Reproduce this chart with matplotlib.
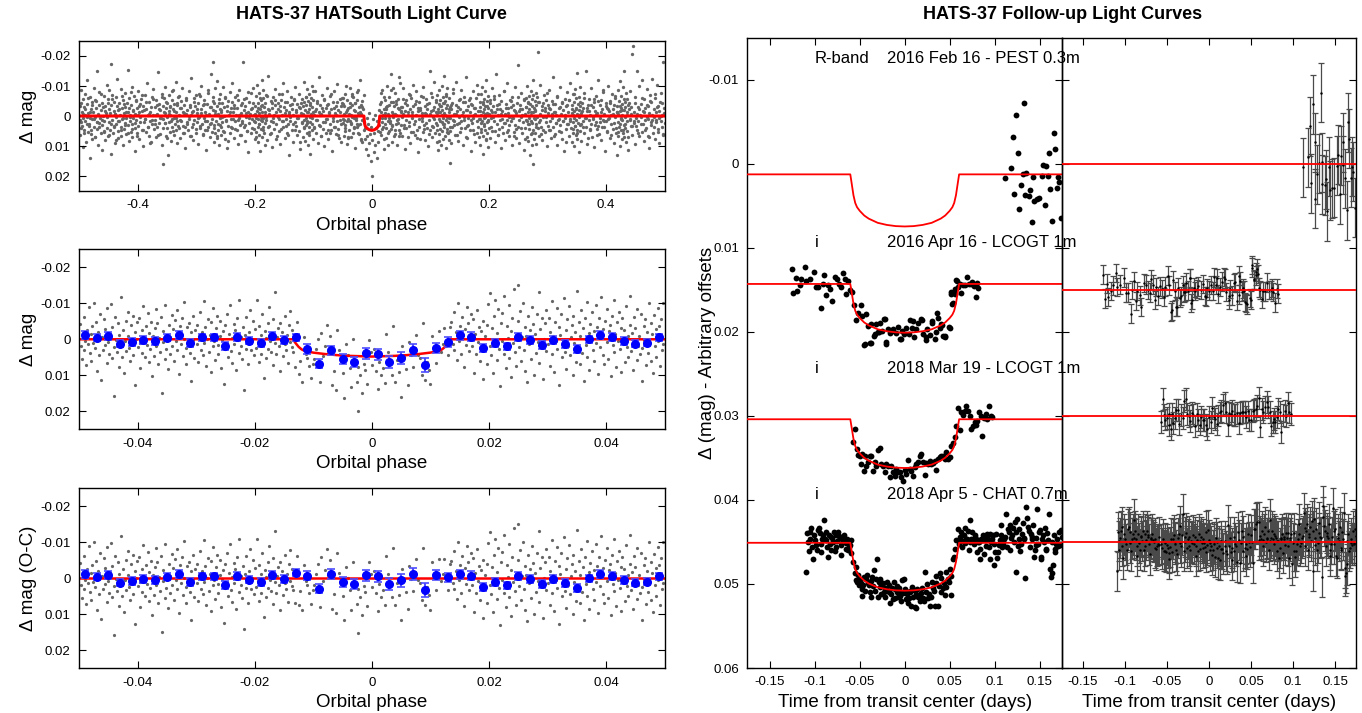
import numpy as np
import matplotlib
matplotlib.use('Agg')
import matplotlib.pyplot as plt

plt.rcParams['font.family'] = ['Liberation Sans', 'DejaVu Sans']

# HATSouth light curve, full phase range : phase x1e3, dmag x1e4
HS_WIDE = """
-499 -35, -499 62, -498 14, -497 -88, -497 20, -496 41, -495 -12, -494 103, -494 -57, -493 7, -492 -30, -491 48,
-490 -74, -490 15, -489 -3, -488 86, -487 -41, -486 28, -486 -120, -485 52, -484 -9, -483 33, -482 -65, -482 5,
-481 140, -480 -22, -479 60, -478 -47, -477 11, -477 78, -476 -15, -475 -95, -474 37, -473 2, -473 -53, -472 70,
-471 -28, -470 19, -469 -150, -469 44, -468 -6, -467 95, -466 -37, -465 24, -465 -80, -464 8, -463 55, -462 -19,
-461 112, -461 -44, -460 30, -459 -1, -458 -68, -457 49, -457 16, -456 -33, -455 81, -454 -10, -453 -105, -453 39,
-452 4, -451 -58, -450 66, -449 -24, -449 21, -448 -87, -447 46, -446 -172, -445 125, -445 -36, -444 12, -443 -70,
-442 58, -441 -16, -441 32, -440 -48, -439 91, -438 -8, -437 27, -437 -62, -436 3, -435 -125, -434 50, -433 -20,
-433 74, -432 -42, -431 16, -430 -2, -429 65, -429 -90, -428 35, -427 -27, -426 10, -425 -54, -425 98, -424 -11,
-423 43, -422 -76, -421 22, -421 -30, -420 7, -419 60, -418 -45, -417 -155, -417 31, -416 -14, -415 84, -414 -60,
-413 18, -413 -5, -412 52, -411 -38, -410 -96, -409 25, -409 71, -408 -21, -407 6, -406 -67, -405 40, -405 -8,
-404 118, -403 -49, -402 14, -401 -28, -401 57, -400 -82, -399 33, -398 -12, -397 76, -396 -40, -395 3, -394 -58,
-393 45, -392 -18, -391 100, -390 -33, -389 20, -388 -70, -387 9, -386 52, -385 -25, -384 -110, -383 38, -382 -5,
-381 66, -380 -47, -379 17, -378 -15, -377 88, -376 -62, -375 28, -374 -2, -373 -90, -372 44, -371 -30, -370 13,
-369 -52, -368 71, -367 -8, -366 36, -365 -148, -364 22, -363 -40, -362 59, -361 -20, -360 5, -359 -75, -358 96,
-357 -35, -356 11, -356 160, -355 -60, -354 24, -353 -11, -353 -98, -352 68, -351 -26, -350 2, -350 41, -349 -45,
-348 130, -347 -16, -347 19, -346 -70, -345 54, -344 -4, -344 -32, -343 82, -342 -55, -341 10, -341 35, -340 -22,
-339 -88, -338 63, -338 6, -337 -40, -336 27, -335 -115, -335 48, -334 -12, -333 90, -332 -36, -332 15, -331 -64,
-330 40, -329 -3, -328 -28, -327 72, -326 -50, -325 18, -324 -95, -323 33, -322 -14, -321 58, -320 -38, -319 105,
-318 -7, -317 -60, -316 25, -315 -20, -314 46, -313 -82, -312 9, -311 67, -310 -30, -309 -2, -308 -128, -307 37,
-306 -18, -305 80, -304 -48, -303 12, -302 -35, -301 55, -300 -70, -299 20, -298 -10, -297 93, -296 -44, -295 4,
-294 -66, -293 41, -292 -22, -291 -100, -290 28, -289 62, -288 -36, -287 7, -286 -55, -285 48, -284 -14, -283 112,
-282 -40, -281 16, -280 -78, -279 35, -278 -6, -277 70, -276 -30, -275 -140, -274 22, -273 52, -272 -20, -272 -180,
-271 -62, -270 85, -269 -45, -269 30, -268 -8, -267 -92, -267 57, -266 15, -265 -34, -265 68, -264 -118, -263 26,
-263 -2, -262 45, -261 -56, -261 96, -260 -24, -259 8, -259 -75, -258 38, -257 -12, -257 62, -256 -42, -255 20,
-254 -98, -254 50, -253 1, -252 -30, -251 77, -250 -60, -249 14, -248 -18, -247 108, -246 -50, -245 32, -244 -5,
-243 -80, -242 55, -241 -26, -240 9, -239 -110, -238 40, -237 -15, -236 72, -235 -38, -234 18, -233 -65, -232 -2,
-231 48, -230 -28, -229 92, -228 -52, -227 6, -226 -88, -225 29, -224 -10, -223 64, -222 -42, -221 15, -220 -180,
-219 37, -218 -20, -217 83, -216 -35, -215 3, -214 -60, -213 51, -212 -14, -211 120, -210 -46, -209 24, -208 -8,
-207 -76, -206 58, -205 -28, -204 11, -203 -95, -202 44, -201 -4, -200 75, -199 -33, -199 20, -198 -66, -198 5,
-197 52, -196 -18, -196 -105, -195 36, -195 88, -194 -42, -194 10, -193 -10, -193 64, -192 -78, -192 27, -191 -25,
-191 115, -190 -52, -190 3, -189 44, -189 -34, -188 -120, -188 18, -187 71, -187 -15, -186 -60, -186 38, -185 6,
-185 -88, -184 55, -184 -30, -183 -3, -183 98, -182 -45, -182 22, -181 -70, -180 12, -179 80, -178 -22, -177 -135,
-176 32, -175 -8, -174 60, -173 -50, -172 15, -171 -28, -170 102, -169 -62, -168 7, -167 42, -166 -36, -165 -90,
-164 25, -163 -12, -162 68, -161 -44, -160 4, -159 -75, -158 50, -157 -18, -156 92, -155 -55, -154 18, -153 -2,
-152 -110, -151 36, -150 -30, -149 74, -148 -46, -147 10, -146 -20, -145 57, -144 -85, -143 28, -142 -6, -141 130,
-140 -38, -139 15, -138 -64, -137 45, -136 -25, -135 -3, -134 85, -133 -52, -132 20, -131 -98, -130 33, -129 -14,
-128 62, -127 -40, -126 8, -125 -72, -124 49, -123 -26, -122 110, -121 -9, -120 -58, -119 24, -118 -32, -117 70,
-116 -48, -116 12, -115 -115, -115 40, -114 -20, -114 82, -113 -64, -113 5, -112 30, -112 -38, -111 -90, -111 55,
-110 16, -110 -12, -109 98, -109 -50, -108 -25, -108 35, -107 -75, -107 62, -106 2, -106 -42, -105 125, -105 20,
-104 -60, -104 -8, -103 48, -103 -100, -102 27, -102 -30, -101 75, -101 -15, -100 -55, -99 38, -98 -4, -97 -82,
-96 58, -95 -22, -94 14, -93 -45, -92 90, -91 -12, -90 -130, -89 33, -88 -36, -87 66, -86 -6, -85 -70, -84 44,
-83 -18, -82 100, -81 -52, -80 20, -79 -28, -78 55, -77 -92, -76 9, -75 -40, -74 78, -73 -14, -72 28, -71 -66,
-70 48, -69 -24, -68 115, -67 -48, -66 6, -65 -85, -64 36, -63 -10, -62 60, -61 -35, -60 18, -59 -108, -58 42,
-57 -20, -56 72, -55 -56, -54 12, -53 -32, -52 88, -51 -44,
-50 22, -49 -40, -48 65, -47 -8, -46 -75, -45 30, -44 -15, -43 92, -42 -52, -41 10, -40 -28, -39 48, -38 -95,
-37 18, -36 -5, -35 70, -34 -38, -33 4, -32 -62, -31 40, -30 -20, -29 105, -28 -44, -27 12, -26 -80, -25 35,
-24 -10, -23 58, -22 -30, -21 -120, -20 26, -19 -6, -18 80, -17 -50, -16 14, -15 -25, -14 45,
-50 -60, -48 12, -46 40, -44 -100, -42 18, -40 70, -38 -30, -36 25, -34 -72, -32 55, -30 8, -28 -45, -26 28,
-24 -88, -22 60, -20 -12, -18 -36, -16 88, -14 -70,
-13 20, -12 75, -11 40, -10 110, -9 5, -8 68, -7 130, -6 25, -5 90, -4 -10, -3 60, -2 150, -1 35, 0 200, 1 80,
2 10, 3 120, 4 55, 5 -5, 6 95, 7 40, 8 140, 9 15, 10 85, 11 50, 12 -20, 13 30,
14 -40, 15 62, 16 -15, 17 8, 18 -88, 19 36, 20 -25, 21 110, 22 -55, 23 6, 24 -30, 25 72, 26 -100, 27 18, 28 -8,
29 50, 30 -65, 31 22, 32 -140, 33 44, 34 -12, 35 88, 36 -46, 37 2, 38 -34, 39 60, 40 -78, 41 26, 42 -4, 43 95,
44 -58, 45 10, 46 -22, 47 48, 48 -110, 49 30, 50 -16,
14 52, 16 -78, 18 20, 20 75, 22 -10, 24 40, 26 -35, 28 95, 30 5, 32 -48, 34 30, 36 -92, 38 68, 40 -8, 42 -50,
44 22, 46 -130, 48 56, 50 -30,
51 -30, 52 65, 53 -8, 54 -92, 55 40, 56 -18, 57 110, 58 -52, 59 14, 60 -36, 61 70, 62 -4, 63 -75, 64 33, 65 -22,
66 90, 67 -60, 68 8, 69 -14, 70 52, 71 -105, 72 25, 73 -40, 74 62, 75 -2, 76 -85, 77 45, 78 -28, 79 120, 80 -48,
81 10, 82 -20, 83 76, 84 -66, 85 18, 86 -10, 87 54, 88 -98, 89 30, 90 -34, 91 80, 92 -6, 93 -58, 94 40, 95 -25,
96 100, 97 -44, 98 12, 99 -150, 100 48, 101 -18, 102 70, 103 -62, 104 4, 105 36, 106 -30, 107 -115, 108 58,
109 -12, 109 22, 110 -48, 111 85, 111 -5, 112 -70, 112 30, 113 -25, 113 112, 114 10, 114 -40, 115 60, 115 -88,
116 -15, 116 42, 117 -55, 117 18, 118 95, 118 -32, 119 -2, 119 -100, 120 50, 120 -20, 121 28, 121 -65, 122 75,
122 8, 123 -42, 123 -135, 124 38, 124 -10, 125 66, 125 -50, 126 14, 126 -28, 127 105, 127 -74, 128 2, 128 44,
129 -36, 129 -92, 130 58, 130 20, 131 -15, 131 80, 132 -60, 132 6, 133 -30, 133 36, 134 155, 134 50, 135 -22,
136 90, 137 -45, 138 12, 139 -78, 140 30, 141 -8, 142 64, 143 -38, 144 -112, 145 26, 146 -16, 147 82, 148 -54,
149 4, 150 -25, 151 52, 152 -88, 153 18, 154 -4, 155 98, 156 -46, 157 14, 158 -64, 159 40, 160 -20, 161 -130,
162 33, 163 72, 164 -35, 165 8, 166 -55, 167 46, 168 -12, 169 118, 170 -40, 171 22, 172 -82, 173 5, 174 60,
175 -28, 176 -6, 177 86, 178 -60, 179 15, 180 -105, 181 38, 182 -18, 183 70, 184 -48, 184 10, 185 -30, 185 95,
186 -72, 186 24, 187 -2, 187 54, 188 -96, 188 16, 189 -40, 189 66, 190 -14, 190 125, 191 -58, 191 8, 192 32,
192 -22, 193 -85, 193 48, 194 2, 194 -35, 195 78, 195 -120, 196 20, 196 -10, 197 58, 197 -50, 198 -26, 198 102,
199 12, 199 -66, 200 40, 200 -8, 201 -44, 202 74, 203 -20, 204 6, 205 -92, 206 50, 207 -32, 208 16, 209 -58,
210 88, 211 -12, 212 -140, 213 28, 214 -36, 215 62, 216 -4, 217 -70, 218 42, 219 -24, 220 108, 221 -50, 222 10,
223 -16, 224 56, 225 -82, 226 22, 227 -6, 228 80, 229 -40, 230 14, 231 -110, 232 46, 233 -28, 234 2, 235 68,
236 -54, 237 18, 238 -30, 239 96, 240 -64, 241 8, 242 -20, 243 52, 244 -98, 245 30, 246 -10, 247 74, 248 -44,
249 -170, 250 36, 251 -18, 252 90, 253 -36, 254 4, 255 -76, 256 58, 257 -22, 258 20, 259 -52, 260 112, 261 -8,
262 40, 263 -60, 264 14, 264 -30, 265 70, 265 -100, 266 26, 266 -14, 267 84, 267 -46, 268 6, 268 -66, 269 44,
269 -24, 270 130, 270 -40, 271 16, 271 -85, 272 60, 272 -2, 273 -34, 273 98, 274 22, 274 -56, 275 -12, 275 48,
276 -120, 276 160, 277 -26, 277 76, 278 10, 278 -50, 279 55, 279 -18, 280 -78, 280 28, 281 92, 281 -38, 282 4,
282 -62, 283 40, 284 -212, 285 66, 286 -48, 287 12, 288 -105, 289 36, 290 -20, 291 80, 292 -42, 293 2, 294 -70,
295 54, 296 -28, 297 20, 298 -55, 299 100, 300 -10, 301 -36, 302 45, 303 -88, 304 16, 305 -22, 306 72, 307 -50,
308 8, 309 -130, 310 38, 311 -14, 312 60, 313 -40, 314 24, 315 -4, 316 95, 317 -66, 318 12, 319 -28, 320 50,
321 -96, 322 30, 323 -8, 324 78, 325 -46, 326 18, 327 -20, 328 115, 329 -58, 330 6, 331 -34, 332 44, 333 -80,
334 26, 335 -12, 336 68, 337 -52, 338 10, 339 -110, 340 40, 341 -24, 342 86, 342 -38, 343 -2, 343 56, 344 -72,
344 20, 345 -16, 345 100, 346 -48, 346 8, 347 34, 347 -90, 348 62, 348 -28, 349 14, 349 -60, 350 -145, 350 45,
351 -6, 351 75, 352 -40, 352 24, 353 -20, 353 120, 354 -64, 354 4, 355 50, 355 -34, 356 -98, 356 30, 357 -10,
358 82, 359 -44, 360 16, 361 -26, 362 58, 363 -76, 364 8, 365 -150, 366 36, 367 -18, 368 92, 369 -38, 370 12,
371 -58, 372 46, 373 -4, 374 -92, 375 26, 376 70, 377 -30, 378 2, 379 -48, 380 104, 381 -16, 382 20, 383 -68,
384 42, 385 -10, 386 -120, 387 32, 388 60, 389 -36, 390 6, 391 -54, 392 80, 393 -22, 394 14, 395 -86, 396 38,
397 -6, 398 118, 399 -42, 400 18, 401 -28, 402 52, 403 -100, 404 10, 405 -16, 406 74, 407 -50, 408 28, 409 -2,
410 -74, 411 44, 412 -24, 413 90, 414 -38, 415 4, 416 -60, 417 56, 418 -12, 419 130, 419 -32, 420 20, 420 -88,
421 66, 421 -8, 422 36, 422 -50, 423 -16, 423 100, 424 -118, 424 26, 425 -26, 425 48, 426 8, 426 -66, 427 78,
427 -40, 428 14, 428 -4, 429 -96, 429 58, 430 -20, 430 30, 431 -150, 431 70, 432 -46, 432 2, 433 40, 433 -30,
434 -78, 434 88, 435 16, 435 -12, 436 -56, 436 50, 437 -36, 438 112, 439 -24, 440 10, 441 -84, 442 34, 443 -8,
444 62, 445 -205, 446 -232, 447 22, 448 -14, 449 94, 450 -64, 451 6, 452 -150, 453 46, 454 -30, 455 18,
456 -100, 457 68, 458 -2, 459 -40, 460 28, 461 -120, 462 52, 463 -18, 464 84, 465 -56, 466 12, 467 -26, 468 40,
469 -90, 470 4, 471 66, 472 -34, 473 106, 474 -10, 475 -70, 476 30, 477 -48, 478 14, 479 -125, 480 56, 481 -22,
482 2, 483 78, 484 -60, 485 20, 486 -14, 487 -102, 488 44, 489 -32, 490 8, 491 90, 492 -46, 493 16, 494 -76,
495 36, 496 -4, 497 -180, 498 60, 499 -28, 500 22
"""

# more HATSouth points from the dense core of the band : phase x1e3, dmag x1e4
HS_WIDE2 = """
-499 15, -497 -42, -495 33, -493 -8, -491 57, -489 -25, -487 4, -485 -61, -483 28, -481 -14, -479 46, -477 -36,
-475 9, -473 70, -471 -50, -469 21, -467 -3, -465 38, -463 -72, -461 12, -459 -29, -457 52, -455 -18, -453 1,
-451 -45, -449 64, -447 -10, -445 26, -443 -58, -441 35, -439 -6, -437 80, -435 -33, -433 18, -431 -22, -429 48,
-427 -66, -425 7, -423 -40, -421 30, -419 -12, -417 58, -415 -27, -413 3, -411 -80, -409 42, -407 -16, -405 24,
-403 -52, -401 66, -399 -4, -397 -35, -395 19, -393 -70, -391 45, -389 -20, -387 10, -385 -48, -383 36, -381 -8,
-379 90, -377 -31, -375 14, -373 -56, -371 27, -369 -2, -367 -38, -365 62, -363 -24, -361 8, -359 -64, -357 40,
-355 -13, -353 22, -351 -46, -349 74, -347 -6, -345 -30, -343 16, -341 -84, -339 50, -337 -18, -335 5, -333 -42,
-331 32, -329 -68, -327 12, -325 -26, -323 55, -321 -9, -319 38, -317 -55, -315 20, -313 -1, -311 -36, -309 68,
-307 -15, -305 28, -303 -60, -301 44, -299 -22, -297 6, -295 -75, -293 34, -291 -11, -289 60, -287 -40, -285 17,
-283 -5, -281 48, -279 -88, -277 25, -275 -30, -273 11, -271 -50, -269 40, -267 -16, -265 72, -263 -7, -261 -44,
-259 30, -257 -20, -255 3, -253 54, -251 -62, -249 18, -247 -34, -245 82, -243 -12, -241 36, -239 -48, -237 9,
-235 -26, -233 44, -231 -70, -229 14, -227 -3, -225 63, -223 -38, -221 22, -219 -57, -217 31, -215 -10, -213 50,
-211 -80, -209 6, -207 -22, -205 39, -203 -45, -201 15, -199 -8, -197 70, -195 -28, -193 26, -191 -60, -189 12,
-187 -36, -185 46, -183 -14, -181 4, -179 -66, -177 35, -175 -19, -173 58, -171 -42, -169 20, -167 -2, -165 -52,
-163 76, -161 -24, -159 10, -157 -32, -155 42, -153 -74, -151 17, -149 -9, -147 33, -145 -47, -143 64, -141 -15,
-139 2, -137 -40, -135 28, -133 -58, -131 48, -129 -20, -127 8, -125 -30, -123 85, -121 -44, -119 19, -117 -6,
-115 37, -113 -64, -111 24, -109 -12, -107 52, -105 -36, -103 6, -101 -82, -99 40, -97 -18, -95 14, -93 -50,
-91 30, -89 -4, -87 68, -85 -26, -83 21, -81 -56, -79 11, -77 -38, -75 45, -73 -10, -71 57, -69 -72, -67 16,
-65 -28, -63 35, -61 -2, -59 -46, -57 62, -55 -14, -53 27, -51 -60, -49 9, -47 -34, -45 50, -43 -20, -41 74,
-39 -8, -37 -42, -35 22, -33 -68, -31 38, -29 -16, -27 5, -25 -54, -23 31, -21 -11, -19 78, -17 -30, -15 13,
15 -48, 17 43, 19 -4, 21 -64, 23 25, 25 -22, 27 56, 29 -36, 31 18, 33 -86, 35 34, 37 -7, 39 47, 41 -40, 43 12,
45 -26, 47 66, 49 -15, 51 3, 53 -58, 55 29, 57 -45, 59 41, 61 -12, 63 20, 65 -70, 67 54, 69 -3, 71 -32,
73 15, 75 -50, 77 72, 79 -18, 81 37, 83 -28, 85 7, 87 -62, 89 44, 91 -10, 93 23, 95 -40, 97 60, 99 -6,
101 -76, 103 32, 105 -20, 107 10, 109 -52, 111 46, 113 -14, 115 84, 117 -34, 119 19, 121 -44, 123 28, 125 -2,
127 -66, 129 52, 131 -24, 133 6, 135 -38, 137 36, 139 -90, 141 16, 143 -8, 145 64, 147 -30, 149 24, 151 -56,
153 40, 155 -12, 157 4, 159 -48, 161 70, 163 -20, 165 30, 167 -60, 169 14, 171 -36, 173 48, 175 -4, 177 -26,
179 58, 181 -74, 183 10, 185 -16, 187 42, 189 -46, 191 26, 193 -8, 195 80, 197 -32, 199 18, 201 -54, 203 35,
205 -14, 207 2, 209 -68, 211 50, 213 -22, 215 62, 217 -40, 219 13, 221 -6, 223 38, 225 -84, 227 22, 229 -28,
231 54, 233 -10, 235 30, 237 -50, 239 8, 241 -36, 243 66, 245 -18, 247 44, 249 -64, 251 12, 253 -24, 255 40,
257 -2, 259 -58, 261 76, 263 -30, 265 16, 267 -42, 269 27, 271 -12, 273 56, 275 -70, 277 6, 279 -20, 281 36,
283 -48, 285 20, 287 -8, 289 60, 291 -34, 293 46, 295 -16, 297 3, 299 -78, 301 32, 303 -26, 305 48, 307 -6,
309 -40, 311 68, 313 -14, 315 24, 317 -62, 319 10, 321 -30, 323 52, 325 -44, 327 15, 329 -4, 331 86, 333 -36,
335 28, 337 -52, 339 18, 341 -10, 343 42, 345 -72, 347 34, 349 -22, 351 58, 353 -2, 355 -46, 357 25, 359 -16,
361 38, 363 -60, 365 8, 367 -28, 369 74, 371 -18, 373 44, 375 -38, 377 11, 379 -56, 381 30, 383 -6, 385 64,
387 -50, 389 20, 391 -12, 393 36, 395 -80, 397 16, 399 -32, 401 50, 403 -24, 405 5, 407 -42, 409 62, 411 -8,
413 22, 415 -66, 417 40, 419 -14, 421 54, 423 -34, 425 9, 427 -20, 429 46, 431 -58, 433 26, 435 -4, 437 70,
439 -44, 441 14, 443 -30, 445 33, 447 15, 449 -42, 451 33, 453 -8, 455 57, 457 -25, 459 4, 461 -61, 463 28,
465 -14, 467 46, 469 -36, 471 9, 473 70, 475 -50, 477 21, 479 -3, 481 38, 483 -72, 485 12, 487 -29, 489 52,
491 -18, 493 1, 495 -45, 497 64, 499 -10
"""

# HATSouth light curve around the transit : phase x1e4, dmag x1e4
HS_ZOOM = """
-498 -42, -497 18, -495 55, -494 -8, -492 31, -491 -63, -489 4, -488 72, -486 -25, -485 12, -483 -91, -482 38,
-480 -14, -479 61, -477 -37, -476 9, -474 -102, -473 25, -471 -48, -470 87, -468 3, -467 -19, -465 44, -464 -71,
-462 112, -461 -5, -459 29, -458 -56, -456 16, -455 -29, -453 67, -452 -88, -450 7, -449 41, -447 -15, -446 -99,
-444 53, -443 -33, -441 21, -440 158, -438 -62, -437 2, -435 36, -434 -45, -432 77, -431 -11, -429 14, -428 -118,
-426 48, -425 -27, -423 95, -422 6, -420 -52, -419 33, -417 -8, -416 -75, -414 24, -413 59, -411 -39, -410 11,
-408 -64, -407 43, -405 -21, -404 128, -402 -2, -401 -47,
-399 22, -398 -58, -396 9, -395 81, -393 -26, -392 37, -390 -93, -389 -4, -387 50, -386 -36, -384 15, -383 -72,
-381 63, -380 -17, -378 28, -377 -49, -375 101, -374 -9, -372 46, -371 -31, -369 -85, -368 19, -366 -44, -365 70,
-363 -3, -362 34, -360 -61, -359 150, -357 -22, -356 8, -354 55, -353 -95, -351 27, -350 -12, -348 83, -347 -40,
-345 -6, -344 42, -342 -68, -341 18, -339 -28, -338 61, -336 -53, -335 4, -333 -80, -332 30, -330 -14, -329 96,
-327 -37, -326 13, -324 -59, -323 47, -321 -1, -320 -104, -318 25, -317 68, -315 -33, -314 7, -312 -46, -311 38,
-309 -19, -308 115, -306 -64, -305 2, -303 52, -302 -26,
-299 -41, -298 14, -296 63, -295 -8, -293 -77, -292 29, -290 -20, -289 45, -287 -106, -286 11, -284 -35, -283 74,
-281 -2, -280 -55, -278 36, -277 -13, -275 90, -274 -47, -272 20, -271 -88, -269 5, -268 58, -266 -30, -265 -66,
-263 17, -262 41, -260 -9, -259 -52, -257 80, -256 1, -254 -24, -253 123, -251 -39, -250 26, -248 -71, -247 9,
-245 49, -244 -16, -242 -94, -241 33, -239 -4, -238 65, -236 -43, -235 12, -233 -27, -232 86, -230 -58, -229 3,
-227 39, -226 -109, -224 19, -223 -7, -221 56, -220 -34, -218 142, -217 -13, -215 27, -214 -62, -212 6, -211 70,
-209 -21, -208 -82, -206 31, -205 -1, -203 -50, -202 44,
-199 -29, -198 23, -196 -108, -195 8, -193 62, -192 -38, -190 -12, -189 40, -187 -70, -186 15, -184 107, -183 -24,
-181 -3, -180 53, -178 -46, -177 28, -175 -90, -174 5, -172 34, -171 -15, -169 71, -168 -57, -166 10, -165 -131,
-163 42, -162 -6, -160 -31, -159 19, -157 88, -156 -45, -154 2, -153 -19, -151 47,
-149 -66, -148 13, -146 29, -145 -11, -143 65, -142 -40, -140 7, -139 -78, -137 22, -136 -25,
-134 35, -131 78, -128 -48, -125 96, -122 60, -119 118, -116 -5, -113 40, -110 52, -107 75, -104 108, -101 70,
-98 55, -95 26, -92 0, -89 120, -86 -18, -83 47, -80 18, -77 -40, -74 33, -71 -8, -68 128, -65 88, -62 140,
-59 -25, -56 30, -53 60, -50 95, -47 162, -44 14, -41 44, -38 80, -35 133, -32 0, -29 65, -26 118, -24 200,
-23 76, -20 99, -17 150, -14 68, -11 86, -8 124, -5 3, -2 36, 1 72, 4 28, 7 88, 10 137, 13 64, 16 100, 19 79,
22 122, 25 -15, 28 34, 31 67, 34 98, 37 -38, 40 120, 43 58, 46 91, 49 160, 52 20, 55 49, 58 82, 61 128, 64 8,
67 44, 70 77, 73 25, 76 -12, 79 45, 82 53, 85 99, 88 -45, 91 112, 94 62, 97 84, 100 125, 103 -8, 106 32,
109 66, 112 20, 115 -22, 118 36, 121 14, 124 -30, 127 20, 130 43, 133 -35,
136 -48, 138 12, 140 -75, 141 30, 143 -20, 145 58, 147 -100, 148 5, 150 -38, 152 40, 154 -62, 155 -12, 157 78,
159 -28, 161 15, 162 -90, 164 -45, 166 33, 168 -5, 169 -70, 171 20, 173 -55, 175 95, 176 -15, 178 42, 180 -82,
182 8, 183 -35, 185 60, 187 -22, 189 110, 190 -50, 192 25, 194 -8, 196 70, 197 -40, 199 -98,
201 18, 202 -128, 204 45, 205 -30, 207 95, 208 -64, 210 3, 211 -110, 213 57, 214 -18, 216 -85, 217 27, 219 130,
220 -45, 222 6, 223 -72, 225 40, 226 -120, 228 15, 229 80, 231 -38, 232 -3, 234 -95, 235 52, 237 -22, 238 105,
240 -60, 241 11, 243 -140, 244 36, 246 -12, 247 73, 249 -50, 250 -150, 252 22, 253 -78, 255 60, 256 -5,
258 -100, 259 31, 261 88, 262 -33, 264 -8, 265 120, 267 -66, 268 14, 270 -25, 271 55, 273 -90, 274 4, 276 -42,
277 98, 279 -16, 280 38, 282 -70, 283 7, 285 -130, 286 66, 288 -28, 289 20, 291 -58, 292 110, 294 -2, 295 -45,
297 33, 298 -82,
301 12, 302 -60, 304 75, 305 -20, 307 -105, 308 40, 310 -8, 311 92, 313 -48, 314 5, 316 -88, 317 28, 319 -35,
320 128, 322 -12, 323 -70, 325 50, 326 2, 328 -115, 329 34, 331 -26, 332 82, 334 -55, 335 18, 337 -92, 338 45,
340 -5, 341 -40, 343 100, 344 -66, 346 9, 347 -20, 349 62, 350 -135, 352 24, 353 -48, 355 70, 356 -10, 358 -80,
359 38, 361 -30, 362 115, 364 -58, 365 15, 367 -104, 368 48, 370 -18, 371 85, 373 -42, 374 1, 376 -75, 377 30,
379 -22, 380 60, 382 -95, 383 10, 385 -35, 386 96, 388 -60, 389 21, 391 -12, 392 -118, 394 43, 395 -28, 397 70,
398 -50,
401 8, 402 -85, 404 55, 405 -22, 407 -40, 408 102, 410 -65, 411 16, 413 -110, 414 36, 416 -15, 417 78, 419 -48,
420 4, 422 -75, 423 28, 425 -32, 426 90, 428 -58, 429 12, 431 -25, 432 64, 434 -92, 435 22, 437 -8, 438 50,
440 -40, 441 -120, 443 33, 444 -18, 446 85, 447 -62, 449 6, 450 -30, 452 58, 453 -84, 455 18, 456 -10, 458 42,
459 -70, 461 25, 462 115, 464 -36, 465 3, 467 -55, 468 72, 470 -20, 471 38, 473 -100, 474 10, 476 -45, 477 60,
479 -14, 480 95, 482 -68, 483 20, 485 -28, 486 48, 488 -88, 489 5, 491 -38, 492 75, 494 -56, 495 30, 497 -102,
498 12
"""

# binned HATSouth points (x1e4)
BIN_PHASE = [-490, -470, -450, -430, -410, -390, -370, -350, -330, -310, -290, -270, -250, -230, -210, -190, -170,
             -150, -130, -110, -90, -70, -50, -30, -10, 10, 30, 50, 70, 90, 110, 130, 150, 170, 190, 210, 230,
             250, 270, 290, 310, 330, 350, 370, 390, 410, 430, 450, 470, 490]
BIN_DMAG = [-12, -4, -10, 12, 7, 2, 6, -4, -12, 11, -6, -6, 18, -7, 4, 10, -10, 2, -5, 27, 68, 31, 55, 63, 39,
            42, 63, 51, 30, 72, 25, 8, -11, -7, 24, 11, 20, -6, 1, 17, 2, 12, 26, 0, -11, -6, 5, 12, 10, -5]
BIN_ERR = [11, 10, 11, 10, 11, 11, 11, 10, 10, 11, 10, 10, 11, 11, 10, 11, 11, 10, 11, 13, 13, 13, 14, 14, 15,
           15, 16, 17, 17, 19, 14, 13, 12, 12, 12, 11, 11, 12, 11, 11, 11, 11, 11, 10, 11, 11, 11, 10, 10, 10]

# HATSouth transit model
PHASE_MODEL = [-0.5, -0.0135, -0.013, -0.0125, -0.012, -0.0115, -0.011, -0.010, -0.008, -0.006, -0.004, -0.002,
               0.0, 0.002, 0.004, 0.006, 0.008, 0.010, 0.011, 0.0115, 0.012, 0.0125, 0.013, 0.0135, 0.5]
DMAG_MODEL = [0, 0, 0.0011, 0.0021, 0.0028, 0.0032, 0.0034, 0.0037, 0.0041, 0.0044, 0.0046, 0.0047,
              0.0048, 0.0047, 0.0046, 0.0044, 0.0041, 0.0037, 0.0034, 0.0032, 0.0028, 0.0021, 0.0011, 0, 0]

# follow-up transit shape (fraction of depth)
T_MODEL = [-0.175, -0.0605, -0.059, -0.057, -0.055, -0.053, -0.050, -0.045, -0.040, -0.030, -0.020, -0.010,
           0.0, 0.010, 0.020, 0.030, 0.040, 0.045, 0.050, 0.053, 0.055, 0.057, 0.059, 0.0605, 0.175]
F_MODEL = [0, 0, 0.17, 0.40, 0.55, 0.63, 0.70, 0.79, 0.85, 0.93, 0.97, 0.993,
           1.0, 0.993, 0.97, 0.93, 0.85, 0.79, 0.70, 0.63, 0.55, 0.40, 0.17, 0, 0]

# follow-up light curves: time x1e4 days, mag x1e5
FEB16 = """
1120 170, 1180 50, 1200 -320, 1220 360, 1240 -580, 1256 -130, 1267 540, 1290 250, 1315 120, 1330 -720,
1340 370, 1350 110, 1380 380, 1390 310, 1410 690, 1430 160, 1440 440, 1470 420, 1490 410, 1526 150, 1540 20,
1560 490, 1575 30, 1590 140, 1600 -130, 1620 300, 1640 680, 1660 -370, 1667 -170, 1690 290, 1700 160,
1720 220, 1740 650
"""
APR16 = """
-1258 1249, -1241 1534, -1211 1356, -1196 1518, -1167 1443, -1148 1376, -1110 1230, -1093 1396, -1056 1368,
-1011 1285, -989 1463, -963 1463, -933 1712, -911 1435, -893 1325, -870 1562, -856 1443, -826 1495, -804 1633,
-778 1349, -748 1368, -730 1435, -704 1463, -685 1305, -663 1368, -648 1554, -626 1396, -604 1507, -585 1522,
-563 1684, -537 1862, -519 1771, -490 1676, -474 1811, -452 2151, -426 1791, -407 1930, -389 2127, -370 1910,
-333 2028, -315 1910, -296 2001, -270 1890, -248 1990, -226 1843, -204 2115, -181 1969, -167 2009, -130 1961,
-100 2010, -74 1940, -48 2080, -26 1990, -3 2020, 19 1950, 44 2020, 63 1860, 85 1950, 104 2056, 130 1970,
152 1900, 178 1843, 204 2020, 233 2060, 248 1970, 278 2040, 307 1870, 333 2088, 352 2001, 363 1771, 389 1950,
407 1902, 426 2048, 444 2048, 493 1942, 511 1527, 537 1661, 559 1495, 574 1384, 596 1463, 611 1435, 630 1534,
648 1447, 670 1447, 693 1344, 715 1435, 733 1435, 752 1408, 767 1455, 789 1581, 807 1415, 819 1474,
-440 2140, -380 2135, -340 2050, -285 2000, -222 1850, -210 2147, -140 1990, -37 2090, 93 1870, 196 1860,
241 2100, 300 1890, 370 1830, 419 1920, 450 2060, 500 1960, 530 1670, 515 1550, 556 1550, 581 1400
"""
MAR19 = """
-574 3313, -548 3160, -530 3393, -519 3464, -500 3472, -481 3571, -470 3452, -456 3650, -437 3479, -426 3598,
-407 3551, -389 3472, -370 3479, -352 3650, -333 3551, -315 3598, -296 3401, -278 3384, -259 3571, -241 3598,
-222 3662, -204 3571, -185 3598, -167 3729, -148 3591, -130 3662, -111 3717, -93 3630, -74 3669, -56 3662,
-37 3729, -19 3780, 0 3638, 19 3689, 37 3520, 56 3630, 74 3650, 93 3710, 111 3610, 130 3571, 148 3551,
167 3479, 185 3452, 204 3551, 222 3701, 241 3559, 259 3571, 278 3531, 296 3571, 315 3559, 333 3531, 352 3638,
370 3511, 389 3491, 407 3479, 426 3472, 444 3511, 463 3432, 481 3511, 500 3491, 519 3361, 537 3321, 556 3254,
574 3124, 593 2910, 611 3167, 630 2958, 648 2989, 667 2938, 685 2879, 704 2938, 722 2998, 741 3155, 759 3116,
778 3076, 789 3108, 807 3057, 826 2958, 844 2998, 863 3235, 881 3029, 900 2977, 919 3037, 937 2886, 956 2998,
974 3017
"""
APR5 = """
-1093 4856, -1081 4393, -1067 4607, -1056 4460, -1037 4334, -1019 4706, -1007 4420, -989 4539, -963 4361,
-944 4393, -926 4618, -907 4420, -896 4243, -889 4460, -870 4480, -852 4677, -833 4520, -815 4440, -796 4500,
-778 4611, -759 4420, -741 4381, -722 4452, -704 4658, -685 4460, -667 4492, -648 4579, -630 4599, -611 4539,
-593 4626, -574 4737, -556 4875, -537 4955, -519 4895, -507 5014, -489 4994, -470 5140, -456 4915, -433 4935,
-419 4895, -400 5014, -378 5152, -359 4915, -341 4836, -322 4943, -307 4706, -289 4982, -270 4943, -252 5014,
-233 5101, -215 5053, -196 4982, -178 5093, -159 5232, -141 5053, -122 4982, -104 5164, -85 5093, -67 5046,
-48 5140, -30 4955, -11 4943, 7 5093, 26 5125, 44 5172, 63 5101, 81 5034, 100 5073, 111 5270, 130 5283,
148 5152, 167 5204, 185 5113, 204 5172, 222 4856, 241 5101, 259 5172, 278 5259, 296 5152, 315 5053, 333 5259,
352 4994, 370 5259, 389 4875, 407 4926, 426 5046, 444 5133, 463 4856, 481 4935, 500 4824, 519 5133, 537 4698,
556 4579, 574 4480, 593 4350, 611 4440, 630 4381, 648 4492, 667 4334, 685 4460, 704 4374, 722 4243, 741 4460,
759 4480, 778 4420, 796 4468, 815 4500, 833 4698, 852 4460, 870 4420, 889 4480, 907 4546, 926 4460, 944 4401,
952 4698, 970 4460, 989 4777, 1007 4618, 1026 4689, 1048 4539, 1067 4420, 1085 4557, 1104 4460, 1130 4164,
1148 4342, 1167 4302, 1185 4452, 1204 4334, 1222 4263, 1233 4856, 1248 4231, 1267 4460, 1285 4611, 1304 4401,
1322 4452, 1341 4926, 1352 4084, 1363 4215, 1381 4374, 1400 4401, 1419 4460, 1437 4677, 1456 4531, 1474 4104,
1493 4381, 1511 4677, 1530 4460, 1548 4500, 1567 4587, 1585 4389, 1604 4170, 1622 4915, 1633 4875, 1648 4777,
1667 4618, 1685 4520, 1704 4546, 1722 4539, 1741 4361,
-545 4800, -528 4980, -500 4940, -480 5060, -462 5010, -445 5080, -410 4990, -390 5100, -370 4960, -350 5030,
-330 5080, -300 5150, -280 5040, -260 5120, -240 4990, -220 5160, -200 5070, -170 5010, -150 5120, -130 5180,
-110 5060, -90 5020, -75 5150, -55 5090, -40 5200, -20 5110, 0 5060, 15 5180, 35 5230, 55 5080, 70 5260,
90 5150, 120 5120, 140 5060, 160 5150, 195 5050, 215 5200, 250 5000, 270 5120, 300 4980, 325 5080, 345 4900,
380 5020, 400 5100, 435 4990, 455 5040, 490 4980, 510 4900, 545 4680,
-1075 4500, -1050 4380, -1030 4560, -1000 4480, -980 4600, -955 4330, -935 4520, -915 4470, -880 4380,
-860 4560, -840 4420, -820 4600, -805 4450, -785 4380, -765 4560, -750 4490, -730 4430, -712 4540, -695 4470,
-675 4420, -655 4510, -640 4470, -620 4560, -600 4480,
600 4520, 620 4470, 640 4560, 655 4420, 675 4510, 695 4470, 712 4600, 730 4500, 750 4380, 770 4530, 786 4440,
805 4620, 825 4500, 842 4580, 860 4480, 880 4640, 898 4450, 915 4400, 935 4560, 960 4500, 980 4420, 998 4520,
1015 4400, 1038 4620, 1058 4480, 1075 4300, 1095 4520, 1115 4440, 1140 4560, 1158 4380, 1176 4600, 1195 4420,
1215 4500, 1240 4380, 1258 4550, 1276 4350, 1295 4520, 1314 4280, 1332 4460, 1371 4320, 1390 4560, 1410 4440,
1428 4300, 1446 4600, 1465 4450, 1484 4530, 1502 4360, 1520 4700, 1540 4420, 1558 4330, 1576 4600, 1595 4480,
1614 4820, 1640 4500, 1658 4420, 1676 4580, 1695 4470, 1713 4380, 1732 4520, 1750 4440
"""

FU_DATA = [FEB16, APR16, MAR19, APR5]
FU_BAND = ['R-band', 'i', 'i', 'i']
FU_NAME = ['2016 Feb 16 - PEST 0.3m', '2016 Apr 16 - LCOGT 1m', '2018 Mar 19 - LCOGT 1m', '2018 Apr 5 - CHAT 0.7m']
FU_BASE = [0.00126, 0.0143, 0.0304, 0.0451]
FU_DEPTH = [0.0062, 0.0058, 0.0058, 0.0057]
FU_RES_OFFSET = [0.0, 0.015, 0.030, 0.045]
FU_ERR = [0.0035, 0.0011, 0.0013, 0.0024]
FU_LABEL_Y = [-0.0125, 0.0094, 0.0244, 0.0393]


def read_pairs(s, xscale, yscale):
    a = np.array(s.replace(',', ' ').split(), dtype=float).reshape(-1, 2)
    return a[:, 0] * xscale, a[:, 1] * yscale


def style(ax, xticks, yticks, ylabels=True):
    ax.tick_params(direction='in', top=True, right=True, length=5, width=0.8, labelsize=9.5, pad=6)
    ax.set_xticks(xticks)
    ax.set_xticklabels([f'{v:g}' for v in xticks])
    ax.set_yticks(yticks)
    if ylabels:
        ax.set_yticklabels([f'{v:g}' for v in yticks])
    else:
        ax.tick_params(labelleft=False)
    for s in ax.spines.values():
        s.set_linewidth(1.0)


ph_w1, dm_w1 = read_pairs(HS_WIDE, 1e-3, 1e-4)
ph_w2, dm_w2 = read_pairs(HS_WIDE2, 1e-3, 1e-4)
ph_wide = np.concatenate([ph_w1, ph_w2])
dm_wide = np.concatenate([dm_w1, dm_w2])
ph_zoom, dm_zoom = read_pairs(HS_ZOOM, 1e-4, 1e-4)

bin_ph = np.array(BIN_PHASE) * 1e-4
bin_dm = np.array(BIN_DMAG) * 1e-4
bin_err = np.array(BIN_ERR) * 1e-4

gray = '#666666'

fig = plt.figure(figsize=(13.62, 7.13), dpi=100)
ax1 = fig.add_axes([0.058, 0.7321, 0.430, 0.2104])
ax2 = fig.add_axes([0.058, 0.3979, 0.430, 0.2525])
ax3 = fig.add_axes([0.058, 0.0627, 0.430, 0.2525])
axA = fig.add_axes([0.5487, 0.0631, 0.2311, 0.884])
axB = fig.add_axes([0.7797, 0.0631, 0.2159, 0.884])
axB.patch.set_visible(False)

ylim_hs = (0.025, -0.025)
yt_hs = [-0.02, -0.01, 0, 0.01, 0.02]

# full phase
ax1.plot(ph_wide, dm_wide, 'o', ms=2.4, mew=0, color=gray, zorder=1)
ax1.plot(PHASE_MODEL, DMAG_MODEL, color='red', lw=2.2, zorder=2)
ax1.set_xlim(-0.5, 0.5)
ax1.set_ylim(*ylim_hs)
style(ax1, [-0.4, -0.2, 0, 0.2, 0.4], yt_hs)
ax1.set_xlabel('Orbital phase', fontsize=13.5, labelpad=4)
ax1.set_ylabel('Δ mag', fontsize=13.5)

# zoom on the transit
ax2.plot(ph_zoom, dm_zoom, 'o', ms=2.3, mew=0, color=gray, zorder=1)
ax2.plot(PHASE_MODEL, DMAG_MODEL, color='red', lw=1.8, zorder=2)
ax2.errorbar(bin_ph, bin_dm, yerr=bin_err, fmt='o', ms=5.5, color='blue', ecolor='#4d4dff',
             elinewidth=1.5, capsize=3, capthick=1.2, zorder=3)
ax2.set_xlim(-0.05, 0.05)
ax2.set_ylim(*ylim_hs)
style(ax2, [-0.04, -0.02, 0, 0.02, 0.04], yt_hs)
ax2.set_xlabel('Orbital phase', fontsize=13.5, labelpad=4)
ax2.set_ylabel('Δ mag', fontsize=13.5)

# residuals
res_zoom = dm_zoom - np.interp(ph_zoom, PHASE_MODEL, DMAG_MODEL)
res_bin = bin_dm - np.interp(bin_ph, PHASE_MODEL, DMAG_MODEL)
ax3.plot(ph_zoom, res_zoom, 'o', ms=2.3, mew=0, color=gray, zorder=1)
ax3.axhline(0, color='red', lw=1.8, zorder=2)
ax3.errorbar(bin_ph, res_bin, yerr=bin_err, fmt='o', ms=5.5, color='blue', ecolor='#4d4dff',
             elinewidth=1.5, capsize=3, capthick=1.2, zorder=3)
ax3.set_xlim(-0.05, 0.05)
ax3.set_ylim(*ylim_hs)
style(ax3, [-0.04, -0.02, 0, 0.02, 0.04], yt_hs)
ax3.set_xlabel('Orbital phase', fontsize=13.5, labelpad=4)
ax3.set_ylabel('Δ mag (O-C)', fontsize=13.5)

for ax in (ax1, ax2, ax3):
    ax.yaxis.set_label_coords(-0.072, 0.5)

# follow-up light curves and residuals
for i in range(len(FU_DATA)):
    t, m = read_pairs(FU_DATA[i], 1e-4, 1e-5)
    model = FU_BASE[i] + FU_DEPTH[i] * np.array(F_MODEL)
    axA.plot(t, m, 'o', ms=4.2, mew=0, color='black', zorder=2)
    axA.plot(T_MODEL, model, color='red', lw=1.3, zorder=3)
    axA.text(-0.1, FU_LABEL_Y[i], FU_BAND[i], fontsize=12, ha='left', va='center', zorder=5)
    axA.text(-0.020, FU_LABEL_Y[i], FU_NAME[i], fontsize=12, ha='left', va='center', zorder=5)

    res = m - np.interp(t, T_MODEL, model) + FU_RES_OFFSET[i]
    axB.errorbar(t, res, yerr=FU_ERR[i], fmt='.', ms=1.5, color='black', ecolor='#4a4a4a',
                 elinewidth=0.9, capsize=2, capthick=0.9, zorder=2)
    axB.axhline(FU_RES_OFFSET[i], color='red', lw=1.3, zorder=3)

xt_fu = [-0.15, -0.1, -0.05, 0, 0.05, 0.1, 0.15]
yt_fu = [-0.01, 0, 0.01, 0.02, 0.03, 0.04, 0.05, 0.06]
for ax in (axA, axB):
    ax.set_xlim(-0.175, 0.175)
    ax.set_ylim(0.06, -0.015)
    ax.set_xlabel('Time from transit center (days)', fontsize=13.5, labelpad=4)
style(axA, xt_fu, yt_fu)
style(axB, xt_fu, yt_fu, ylabels=False)
axA.set_ylabel('Δ (mag) - Arbitrary offsets', fontsize=13.5)
axA.yaxis.set_label_coords(-0.10, 0.5)

fig.text(0.273, 0.980, 'HATS-37 HATSouth Light Curve', ha='center', va='center', fontsize=13, fontweight='bold')
fig.text(0.7805, 0.980, 'HATS-37 Follow-up Light Curves', ha='center', va='center', fontsize=13, fontweight='bold')

fig.savefig('out.png', dpi=100)
